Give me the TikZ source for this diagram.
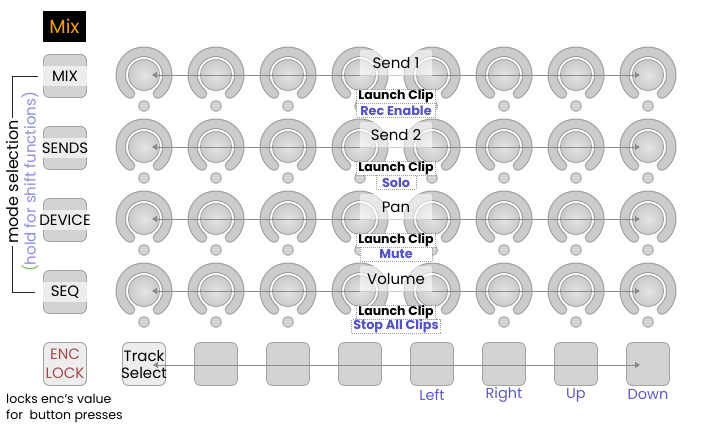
\documentclass[tikz,border=0pt]{standalone}
\usepackage{fontspec}
\setmainfont{Poppins}
\usetikzlibrary{arrows.meta}
\definecolor{ringfill}{HTML}{CBCBCB}
\definecolor{ringline}{HTML}{9E9E9E}
\definecolor{knobA}{HTML}{E4E4E4}
\definecolor{knobB}{HTML}{CACACA}
\definecolor{btnfill}{HTML}{D3D3D3}
\definecolor{btnline}{HTML}{A3A3A3}
\definecolor{bandc}{HTML}{EDEDED}
\definecolor{arrgray}{HTML}{8A8A8A}
\definecolor{lblblue}{HTML}{5050C8}
\definecolor{navblue}{HTML}{5A5AD2}
\definecolor{lav}{HTML}{8C8CE4}
\definecolor{grn}{HTML}{7CC06A}
\definecolor{mixorange}{HTML}{F5A000}
\definecolor{enclock}{HTML}{A8484C}
\newcommand{\fsz}[2]{\fontsize{#1}{#2}\selectfont}
\begin{document}
\begin{tikzpicture}[x=1pt,y=-1pt,
  led/.style={circle, draw=ringline, fill=btnfill, line width=0.8pt, minimum size=11pt, inner sep=0pt},
  conn/.style={draw=arrgray, line width=0.8pt, {Triangle[length=5pt,width=6pt]}-{Triangle[length=5pt,width=6pt]}},
  btn/.style={draw=btnline, fill=btnfill, rounded corners=6pt, line width=0.9pt, minimum width=43pt, minimum height=43pt, inner sep=0pt},
  lbtn/.style={btn, fill=bandc},
  ttl/.style={fill=white, fill opacity=0.55, text opacity=1, minimum width=72pt, minimum height=26pt, inner sep=0pt, font=\fsz{15}{18}},
  dotbox/.style={draw=ringline, dash pattern=on 1pt off 1pt, line width=1pt, fill=white, inner sep=0pt},
  lc/.style={dotbox, minimum width=79pt, minimum height=13.5pt, font=\bfseries\fsz{12.5}{14}},
  sl/.style={dotbox, minimum height=14pt, text=lblblue, font=\bfseries\fsz{12.8}{14}},
  nav/.style={text=navblue, font=\fsz{14.5}{17}},
  side/.style={font=\fsz{15}{17}},
  bracket/.style={draw=black!85, line width=0.9pt}
]
\useasboundingbox (0,0) rectangle (720,430);
\fill[white] (0,0) rectangle (720,430);

% title
\node[fill=black, text=mixorange, minimum width=43pt, minimum height=31pt, inner sep=0pt, font=\fsz{19}{21}] (title) at (64.5,26.5) {Mix};

% encoders
\foreach \r [count=\i] in {75,147,219,291} {
  \foreach \c in {1,...,8} {
    \coordinate (k-\i-\c) at ({72*\c+72},\r);
    \draw[ringline, line width=10.5pt, line cap=round] (k-\i-\c) ++(127:23.25) arc[start angle=127,end angle=413,radius=23.25];
    \draw[ringfill, line width=8.3pt, line cap=round] (k-\i-\c) ++(127:23.25) arc[start angle=127,end angle=413,radius=23.25];
    \draw[ringline, line width=0.8pt, inner color=knobA, outer color=knobB] (k-\i-\c) circle (15.5);
    \node[led] (d-\i-\c) at ({72*\c+72},{\r+31}) {};
  }
  \draw[conn] ([xshift=8pt]k-\i-1) -- ([xshift=-8pt]k-\i-8);
}

% side buttons
\foreach \r/\t [count=\i] in {76/MIX,148/SENDS,220/DEVICE,292/SEQ} {
  \node[btn] (m-\i) at (65,\r) {};
  \fill[bandc] ([yshift=-10pt]m-\i.west) rectangle ([yshift=10pt]m-\i.east);
  \node[side] (mt-\i) at (65,\r) {\t};
}

% mode selection bracket
\node[rotate=90, font=\fsz{16}{18}, inner sep=2pt] (ms) at (12,182) {mode selection};
\draw[bracket] (ms.east) |- ([xshift=-5pt]m-1.west);
\draw[bracket] (ms.west) |- ([xshift=-8pt]m-4.west);
\node[rotate=90, font=\fsz{15}{17}, text=lav] (hs) at (30,182) {\textcolor{grn}{(}hold for shift functions)};

% centre labels
\foreach \r/\a/\b/\w [count=\i] in {75/Send 1/Rec Enable/79, 147/Send 2/Solo/40, 219/Pan/Mute/72, 291/Volume/Stop All Clips/89} {
  \node[ttl] (s-\i) at (396,{\r-12}) {\a};
  \node[lc] (lc-\i) at (396,{\r+21.5}) {Launch Clip};
  \node[sl, minimum width=\w pt] (sl-\i) at (396,{\r+35.5}) {\b};
}

% bottom row
\node[btn, fill=bandc] (enc) at (65,364) {};
\node[text=enclock, align=center, font=\fsz{15}{19}] (enct) at (65,364) {ENC\\LOCK};
\node[lbtn] (b-1) at (144,364) {};
\foreach \c in {2,...,8} {
  \node[btn] (b-\c) at ({72*\c+72},364) {};
}
\node[align=center, font=\fsz{15}{17}] (tst) at (144,365) {Track\\Select};
\draw[conn] ([xshift=9pt,yshift=-1pt]b-1.center) -- ([xshift=-8pt,yshift=-1pt]b-8.center);

\node[nav] (nl) at (432,395) {Left};
\node[nav] (nr) at (504,395) {Right};
\node[nav] (nu) at (576,395) {Up};
\node[nav] (nd) at (648,395) {Down};

\node[anchor=west, align=left, font=\fsz{12.5}{16}, inner sep=0pt] (locks) at (6,408.5) {locks enc's value\\for\ \ button presses};
\end{tikzpicture}
\end{document}
